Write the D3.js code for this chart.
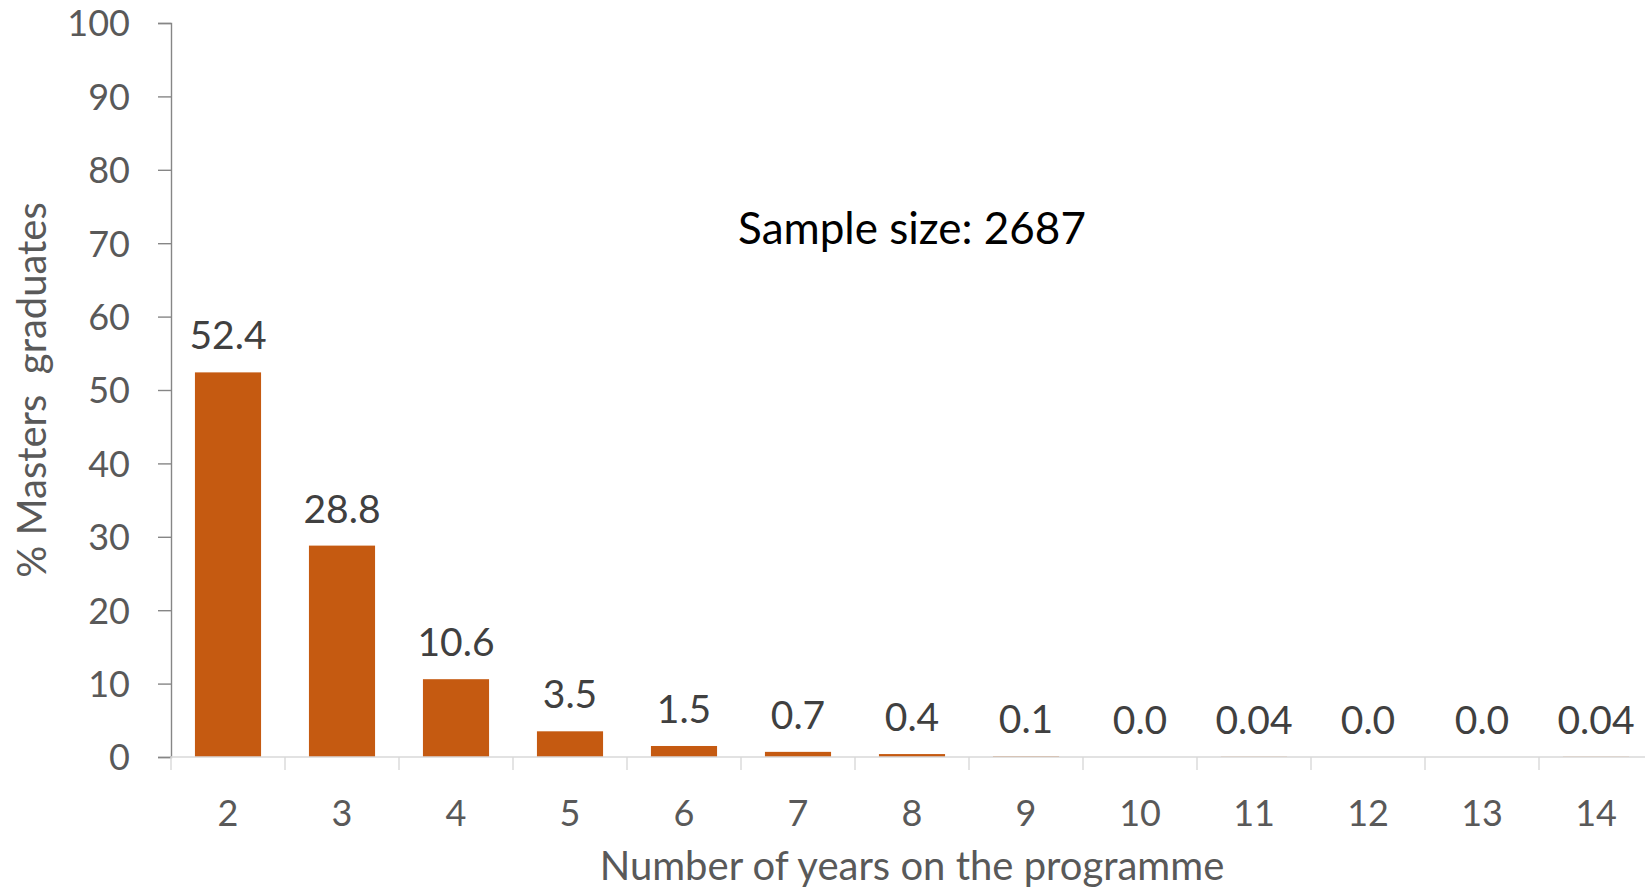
<!DOCTYPE html>
<html>
<head>
<meta charset="utf-8">
<script src="https://cdn.jsdelivr.net/npm/d3@7"></script>
<style>
  html, body { margin: 0; padding: 0; background: #ffffff; }
  svg { display: block; }
  text { font-family: Lato, "Open Sans", sans-serif; }
</style>
</head>
<body>
<svg id="chart" width="1645" height="894"></svg>
<script>
// Years spent on the programme by Masters graduates
const years = ["2", "3", "4", "5", "6", "7", "8", "9", "10", "11", "12", "13", "14"];
const percentGraduates = [52.4, 28.8, 10.6, 3.5, 1.5, 0.7, 0.4, 0.1, 0.0, 0.04, 0.0, 0.0, 0.04];
const yTicks = [0, 10, 20, 30, 40, 50, 60, 70, 80, 90, 100];
const sampleSize = 2687;

const svg = d3.select("#chart");

const plot = { left: 171, right: 1653, top: 23, bottom: 757 };

const x = d3.scaleBand()
  .domain(years)
  .range([plot.left, plot.right])
  .paddingInner(0.42)
  .paddingOuter(0.21);

const y = d3.scaleLinear()
  .domain([0, 100])
  .range([plot.bottom, plot.top]);

// Bars
svg.append("g")
  .selectAll("rect")
  .data(percentGraduates)
  .join("rect")
  .attr("x", (d, i) => x(years[i]))
  .attr("y", d => y(d))
  .attr("width", x.bandwidth())
  .attr("height", d => y(0) - y(d))
  .attr("fill", "#c55a11");

// Value labels above each bar
const fmt = d => (d > 0 && d < 0.05) ? d3.format(".2f")(d) : d3.format(".1f")(d);
svg.append("g")
  .selectAll("text")
  .data(percentGraduates)
  .join("text")
  .attr("x", (d, i) => x(years[i]) + x.bandwidth() / 2)
  .attr("y", d => y(d) - 23)
  .attr("text-anchor", "middle")
  .attr("font-size", 39)
  .attr("fill", "#404040")
  .text(fmt);

// Y axis
const yAxis = svg.append("g")
  .attr("transform", `translate(${plot.left},0)`)
  .call(d3.axisLeft(y).tickValues(yTicks).tickSize(13).tickPadding(28));
yAxis.select(".domain").attr("stroke", "#868686").attr("stroke-width", 1.4);
yAxis.selectAll(".tick line").attr("stroke", "#868686").attr("stroke-width", 1.4);
yAxis.selectAll(".tick text")
  .attr("font-size", 36)
  .attr("fill", "#595959")
  .attr("dy", "0.36em")
  .style("font-family", "Lato, sans-serif");

// X axis: category labels centred on bands, ticks on band boundaries
const xAxis = svg.append("g")
  .attr("transform", `translate(0,${plot.bottom})`)
  .call(d3.axisBottom(x).tickSize(0));
xAxis.select(".domain").remove();
xAxis.selectAll(".tick text")
  .attr("y", 69)
  .attr("dy", 0)
  .attr("font-size", 36)
  .attr("fill", "#595959")
  .style("font-family", "Lato, sans-serif");

const edgeX = years.map((c, i) => plot.left + i * x.step());
edgeX.push(plot.left + years.length * x.step());

xAxis.append("line")
  .attr("x1", plot.left).attr("x2", plot.right)
  .attr("y1", 0).attr("y2", 0)
  .attr("stroke", "#d9d9d9").attr("stroke-width", 1.4);
xAxis.selectAll(".edge")
  .data(edgeX)
  .join("line")
  .attr("class", "edge")
  .attr("x1", d => d).attr("x2", d => d)
  .attr("y1", 0).attr("y2", 13)
  .attr("stroke", "#d9d9d9").attr("stroke-width", 1.4);

// Axis titles
const midX = (plot.left + plot.right) / 2;
svg.append("text")
  .attr("x", midX)
  .attr("y", 880)
  .attr("text-anchor", "middle")
  .attr("font-size", 40)
  .attr("fill", "#595959")
  .text("Number of years on the programme");

svg.append("text")
  .attr("transform", `translate(46,${(plot.top + plot.bottom) / 2}) rotate(-90)`)
  .attr("text-anchor", "middle")
  .attr("font-size", 40)
  .attr("fill", "#595959")
  .attr("xml:space", "preserve")
  .style("white-space", "pre")
  .text("% Masters  graduates");

// Sample size note
svg.append("text")
  .attr("x", midX)
  .attr("y", 244)
  .attr("text-anchor", "middle")
  .attr("font-size", 44)
  .attr("fill", "#000000")
  .text(`Sample size: ${sampleSize}`);
</script>
</body>
</html>
